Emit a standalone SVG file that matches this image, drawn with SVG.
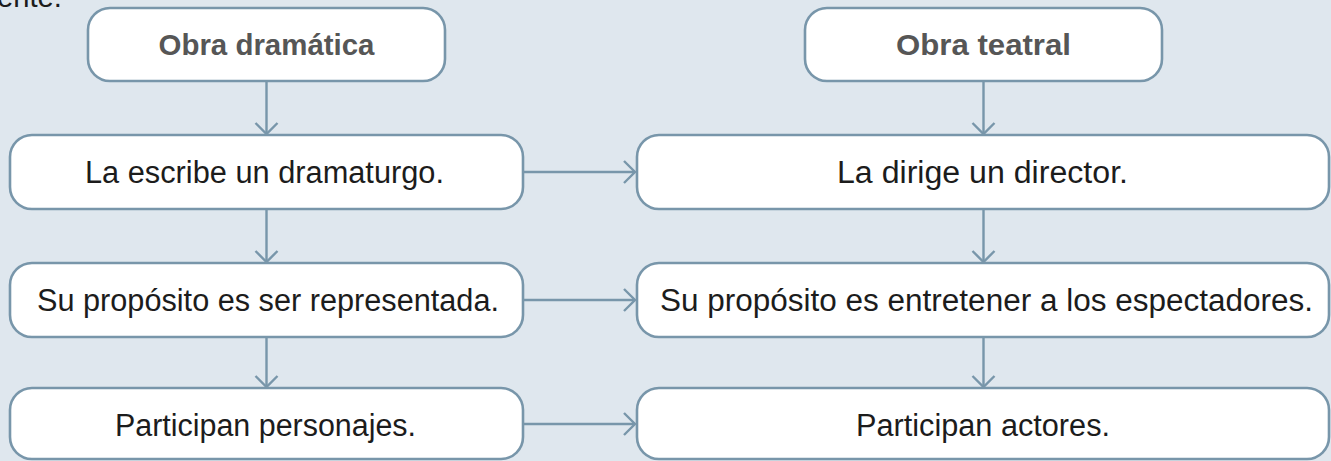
<svg xmlns="http://www.w3.org/2000/svg" width="1331" height="461" viewBox="0 0 1331 461">
<defs>
<style>
.box{fill:#ffffff;stroke:#7896aa;stroke-width:2.6}
.t{font-family:"Liberation Sans",Arial,sans-serif;font-size:31px;fill:#1c1c1c;text-anchor:middle}
.h{font-family:"Liberation Sans",Arial,sans-serif;font-size:30px;font-weight:bold;fill:#565656;text-anchor:middle}
.c{fill:none;stroke:#7896aa;stroke-width:2.4}
</style>
<marker id="arr" markerUnits="userSpaceOnUse" markerWidth="30" markerHeight="30" refX="0" refY="0" viewBox="-15 -15 30 30" orient="auto" overflow="visible">
<path d="M-11,-11 L0,0 L-11,11" fill="none" stroke="#7896aa" stroke-width="2.4"/>
</marker>
</defs>
<rect x="0" y="0" width="1331" height="461" fill="#dfe7ee"/>
<text x="-3" y="7" font-family="Liberation Sans, Arial, sans-serif" font-size="30" fill="#1c1c1c" textLength="65" lengthAdjust="spacingAndGlyphs">ente.</text>
<g id="connectors">
<path class="c" d="M266.5,81 V134" marker-end="url(#arr)"/>
<path class="c" d="M266.5,209 V262" marker-end="url(#arr)"/>
<path class="c" d="M266.5,337 V387" marker-end="url(#arr)"/>
<path class="c" d="M983.5,81 V134" marker-end="url(#arr)"/>
<path class="c" d="M983.5,209 V262" marker-end="url(#arr)"/>
<path class="c" d="M983.5,337 V387" marker-end="url(#arr)"/>
<path class="c" d="M523,172 H635" marker-end="url(#arr)"/>
<path class="c" d="M523,300 H635" marker-end="url(#arr)"/>
<path class="c" d="M523,424 H635" marker-end="url(#arr)"/>
</g>
<g id="n-obra-dramatica">
<rect class="box" x="88" y="8" width="357" height="73" rx="22"/>
<text class="h" x="266.5" y="55" textLength="216" lengthAdjust="spacingAndGlyphs">Obra dramática</text>
</g>
<g id="n-obra-teatral">
<rect class="box" x="805" y="8" width="357" height="73" rx="22"/>
<text class="h" x="983.5" y="55" textLength="175" lengthAdjust="spacingAndGlyphs">Obra teatral</text>
</g>
<g id="n-dramaturgo">
<rect class="box" x="10" y="135" width="513" height="74" rx="22"/>
<text class="t" x="264.5" y="183" textLength="359" lengthAdjust="spacingAndGlyphs">La escribe un dramaturgo.</text>
</g>
<g id="n-director">
<rect class="box" x="637" y="135" width="692" height="74" rx="22"/>
<text class="t" x="982.5" y="183" textLength="291" lengthAdjust="spacingAndGlyphs">La dirige un director.</text>
</g>
<g id="n-representada">
<rect class="box" x="10" y="263" width="513" height="74" rx="22"/>
<text class="t" x="268" y="311" textLength="462" lengthAdjust="spacingAndGlyphs">Su propósito es ser representada.</text>
</g>
<g id="n-espectadores">
<rect class="box" x="637" y="263" width="692" height="74" rx="22"/>
<text class="t" x="986.5" y="311" textLength="653" lengthAdjust="spacingAndGlyphs">Su propósito es entretener a los espectadores.</text>
</g>
<g id="n-personajes">
<rect class="box" x="10" y="388" width="513" height="71" rx="22"/>
<text class="t" x="265.5" y="436" textLength="301" lengthAdjust="spacingAndGlyphs">Participan personajes.</text>
</g>
<g id="n-actores">
<rect class="box" x="637" y="388" width="692" height="71" rx="22"/>
<text class="t" x="983" y="436" textLength="254" lengthAdjust="spacingAndGlyphs">Participan actores.</text>
</g>
</svg>
